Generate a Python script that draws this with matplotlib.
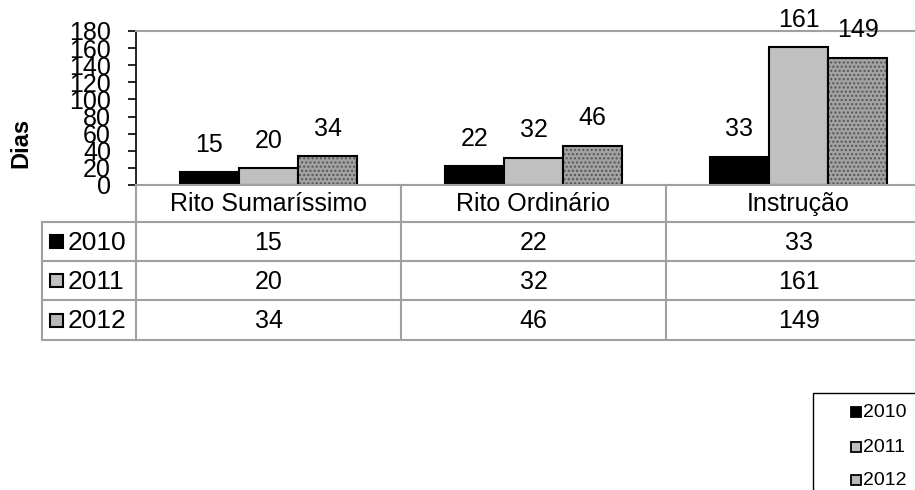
import matplotlib.pyplot as plt
from matplotlib.patches import Rectangle

plt.rcParams['font.family'] = ['Liberation Sans', 'DejaVu Sans']

# dados
categorias = ['Rito Sumaríssimo', 'Rito Ordinário', 'Instrução']
anos = ['2010', '2011', '2012']
v2010 = [15, 22, 33]
v2011 = [20, 32, 161]
v2012 = [34, 46, 149]
valores = [v2010, v2011, v2012]
yticks = [0, 20, 40, 60, 80, 100, 120, 140, 160, 180]

W, H = 915, 490
fig = plt.figure(figsize=(W / 100, H / 100), dpi=100)

# layout em pixels
x0, col_w = 136, 265
y_top, y_bot = 31, 185
ax = fig.add_axes([x0 / W, (H - y_bot) / H, 3 * col_w / W, (y_bot - y_top) / H])

larg = 0.223
cor_grade = '#a0a0a0'
x = range(len(categorias))
for k, serie in enumerate(valores):
    pos = [i + (k - 1) * larg for i in x]
    if k == 0:
        ax.bar(pos, serie, larg, color='black', edgecolor='black', lw=1.5)
    elif k == 1:
        ax.bar(pos, serie, larg, color='#c0c0c0', edgecolor='black', lw=1.5)
    else:
        ax.bar(pos, serie, larg, color='#a2a2a2', edgecolor='#555555', hatch='....', lw=0)
        ax.bar(pos, serie, larg, color='none', edgecolor='black', lw=1.5)
    for p, v in zip(pos, serie):
        ax.annotate(str(v), (p, v), xytext=(0, 11), textcoords='offset points',
                    ha='center', va='bottom', fontsize=18, annotation_clip=False)

ax.set_xlim(-0.5, 2.5)
ax.set_ylim(0, 180)
ax.set_yticks(yticks)
ax.set_yticklabels([str(t) for t in yticks], fontsize=18)
ax.tick_params(axis='y', direction='out', length=6, width=1.2, pad=12)
ax.set_xticks([])
ax.spines['right'].set_visible(False)
ax.spines['top'].set_color(cor_grade)
ax.spines['top'].set_linewidth(1.5)
ax.spines['bottom'].set_color(cor_grade)
ax.spines['bottom'].set_linewidth(1.5)
ax.spines['left'].set_linewidth(1.2)
fig.text(21 / W, 1 - 143 / H, 'Dias', rotation=90, ha='center', va='center',
         fontsize=17, fontweight='bold')

# tabela e legenda desenhadas por cima em pixels
ov = fig.add_axes([0, 0, 1, 1])
ov.set_xlim(0, W)
ov.set_ylim(H, 0)
ov.axis('off')
ov.patch.set_alpha(0)

tab_x0 = 42
linhas_y = [185, 222, 261, 300, 340]
for yy in linhas_y[1:]:
    ov.plot([tab_x0, W + 20], [yy, yy], color=cor_grade, lw=1.5)
for i in range(3):
    xx = x0 + i * col_w
    ov.plot([xx, xx], [185, 340], color=cor_grade, lw=1.5)
ov.plot([tab_x0, tab_x0], [222, 340], color=cor_grade, lw=1.5)

for i, c in enumerate(categorias):
    ov.text(x0 + (i + 0.5) * col_w, 204, c, ha='center', va='center', fontsize=18)

estilos = [dict(fc='black', ec='black'),
           dict(fc='#c0c0c0', ec='black'),
           dict(fc='#b8b8b8', ec='black')]
for r, (ano, serie) in enumerate(zip(anos, valores)):
    yc = (linhas_y[r + 1] + linhas_y[r + 2]) / 2
    st = estilos[r]
    ov.add_patch(Rectangle((50, yc - 6.5), 13, 13, facecolor=st['fc'],
                           edgecolor=st['ec'], lw=1.5))
    ov.text(68, yc + 1, ano, ha='left', va='center', fontsize=19)
    for i, v in enumerate(serie):
        ov.text(x0 + (i + 0.5) * col_w, yc + 1, str(v), ha='center', va='center', fontsize=18)

# legenda
ov.add_patch(Rectangle((813, 393), 140, 120, facecolor='white', edgecolor='black', lw=1))
leg_y = [412, 447, 480]
for r, ano in enumerate(anos):
    st = estilos[r]
    ov.add_patch(Rectangle((851, leg_y[r] - 5), 10, 10, facecolor=st['fc'],
                           edgecolor=st['ec'], lw=1.3))
    ov.text(863, leg_y[r], ano, ha='left', va='center', fontsize=14)

fig.savefig('out.png', dpi=100)
